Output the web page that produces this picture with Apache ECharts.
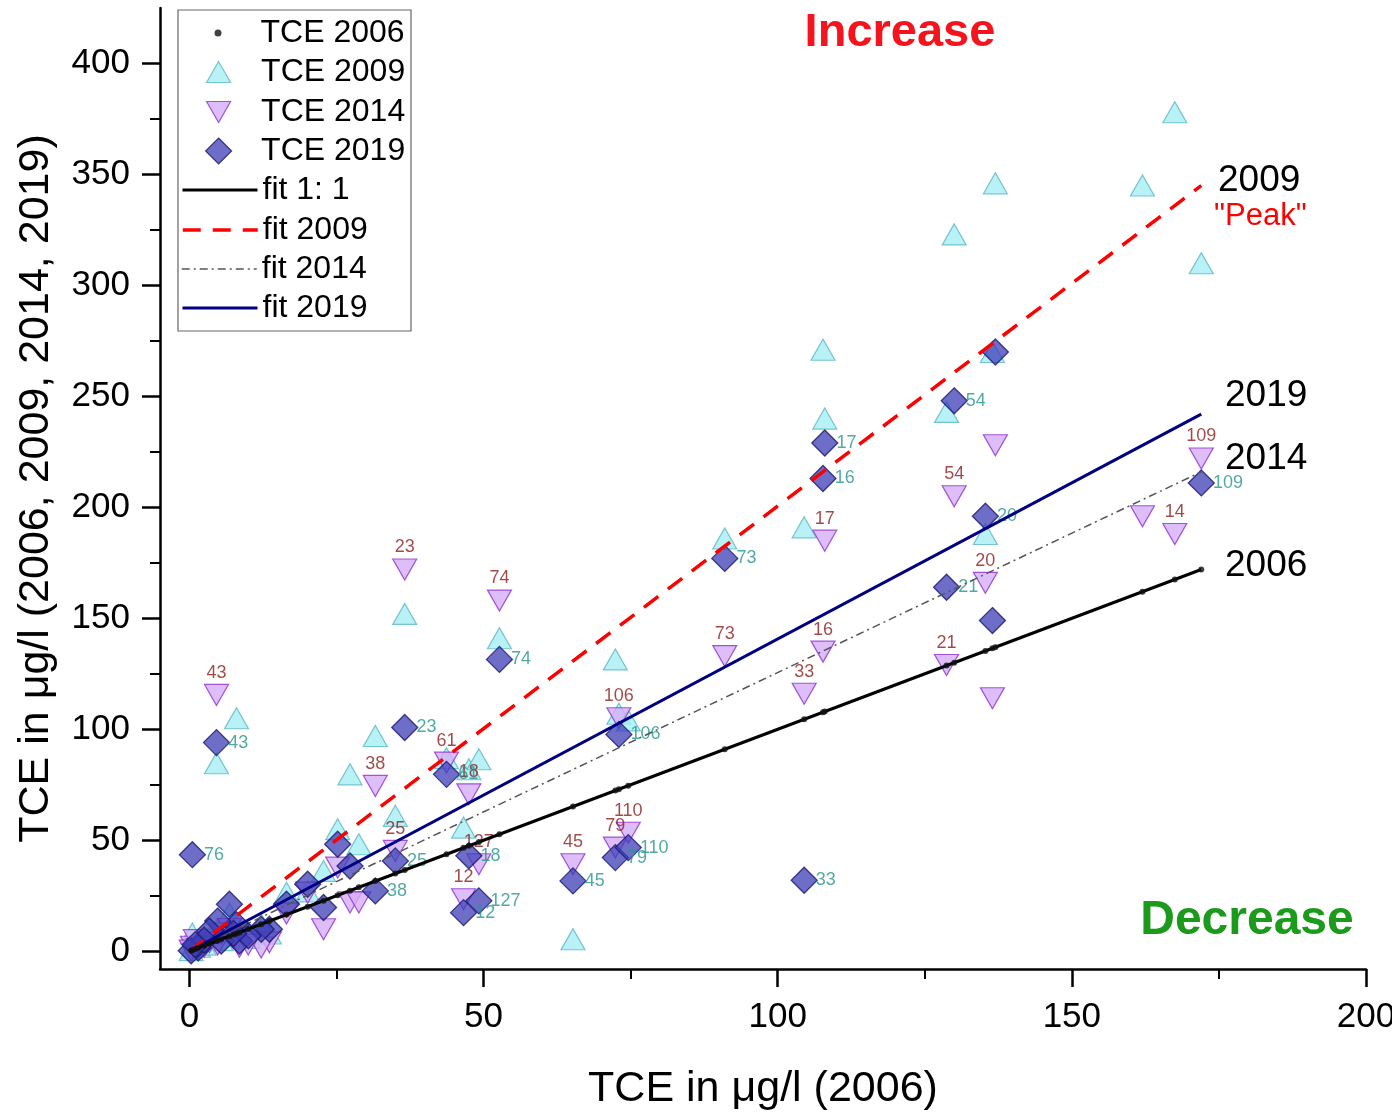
<!DOCTYPE html>
<html><head><meta charset="utf-8">
<script src="https://cdn.jsdelivr.net/npm/echarts@6.0.0/dist/echarts.min.js"></script>
<style>html,body{margin:0;padding:0;background:#fff}#chart{width:1392px;height:1115px}</style>
</head><body><div id="chart"></div>
<script>
// ---- data ----
const tce2006 = [172,167.5,162,137,136.5,135.3,130,128.7,108,107.7,104.5,91,73,72.4,74.6,65.2,52.7,43.7,47.5,46.6,49.2,36.6,31.6,35,27.3,28.8,25.2,22.8,20.1,16.5,13.6,0.5,4.6,8,6.8,4.8,8.5,12.2,3.4,5.4,1.5,0.3,2.5,10,7.5,1];
const tce2009 = [310,378,345,346,270,188,323,243,240,271,191,186,107,131.5,104,5.4,141,87,82,55.7,86.5,152,97,61,79.7,48.2,55,36.2,27,26.4,8,8,84.7,105,17,10,8,12,6,5,2,0.5,3,6,12,4];
const tce2014 = [222,188,196,228,114,166,205,129,185,135,116,133,105,46.7,53.4,39.2,158,85,70.7,23.4,39.2,172,74.5,45.2,22,22,37.7,9.9,26.4,17,4,2,115.5,5,10,3,2,1.7,4,8,1,0.3,2,3,6,5];
const tce2019 = [211,null,null,270,149,196,248,164,229,213,32,177,97.7,42.2,46.7,31.7,131.5,79.7,43,17.4,22.7,100.8,27.2,40.7,38.4,null,48.2,19.7,30.2,21.2,9.9,43.5,94,12,21.2,13.6,4.6,9.9,9.1,4.6,1.5,0.2,5,7,8,3];
const label2014 = ['109','14','','','','20','54','21','17','16','33','73','106','79','110','45','74','61','18','12','127','23','38','25','','','','','','','','','43','','','','','','','','','','','','',''];
const label2019 = ['109','','','','','20','54','21','17','16','33','73','106','79','110','45','74','61','18','12','127','23','38','25','','','','','','','','76','43','','','','','','','','','','','','',''];
const fit11 = [[0,0],[172,172]];
const fit2009 = [[0,0],[172,345]];
const fit2014 = [[0,0],[172,216]];
const fit2019 = [[0,0],[172,242]];
const xTicks = [0,50,100,150,200];
const xMinor = [25,75,125,175];
const yTicks = [0,50,100,150,200,250,300,350,400];
const yMinor = [25,75,125,175,225,275,325,375];

const FONT = '"Liberation Sans", Arial, sans-serif';
const pts = (ys, labels) => tce2006.map((x,i) => ys[i] == null ? null : [x, ys[i], labels ? labels[i] : '']).filter(Boolean);

const chart = echarts.init(document.getElementById('chart'), null, {renderer:'canvas'});

const axisLineStyle = {color:'#000', width:2.5};
const legendBase = {
  orient:'vertical', left:181, padding:0, itemGap:0, itemWidth:75,
  selectedMode:false, symbolKeepAspect:true,
  textStyle:{fontSize:32, lineHeight:32, color:'#000', fontFamily:FONT}
};
const rowY = [33,72,112,151,190,230,269,308];
const DOWN_TRI = 'path://M0,0 L24,0 L12,21 Z';
const UP_TRI = 'path://M12,0 L24,21 L0,21 Z';
const DIAM = 'path://M13,0 L26,13 L13,26 L0,13 Z';
const ICON_CX = 218;

const option = {
  backgroundColor:'#fff',
  animation:false,
  grid:{left:160, right:26, top:8, bottom:146, containLabel:false, outerBoundsMode:'none'},
  xAxis:[
    {type:'value', min:-5, max:200, position:'bottom',
     axisLine:{show:true, onZero:false, lineStyle:axisLineStyle},
     axisTick:{show:true, inside:false, length:18, lineStyle:{color:'#000', width:2.5}, customValues:xTicks},
     axisLabel:{show:true, customValues:xTicks, fontSize:35, color:'#000', fontFamily:FONT, margin:31},
     splitLine:{show:false},
     name:'TCE in \u03bcg/l (2006)', nameLocation:'middle', nameGap:99,
     nameTextStyle:{fontSize:43, color:'#000', fontFamily:FONT}},
    {type:'value', min:-5, max:200, position:'bottom', gridIndex:0,
     axisLine:{show:false, onZero:false},
     axisTick:{show:true, inside:false, length:10, lineStyle:{color:'#000', width:2}, customValues:xMinor},
     axisLabel:{show:false}, splitLine:{show:false}}
  ],
  yAxis:[
    {type:'value', min:-8, max:425, position:'left',
     axisLine:{show:true, onZero:false, lineStyle:axisLineStyle},
     axisTick:{show:true, inside:false, length:18, lineStyle:{color:'#000', width:2.5}, customValues:yTicks},
     axisLabel:{show:true, customValues:yTicks, fontSize:35, color:'#000', fontFamily:FONT, margin:30},
     splitLine:{show:false},
     name:'TCE in \u03bcg/l (2006, 2009, 2014, 2019)', nameLocation:'middle', nameGap:102,
     nameTextStyle:{fontSize:43, color:'#000', fontFamily:FONT}},
    {type:'value', min:-8, max:425, position:'left', gridIndex:0,
     axisLine:{show:false, onZero:false},
     axisTick:{show:true, inside:false, length:10, lineStyle:{color:'#000', width:2}, customValues:yMinor},
     axisLabel:{show:false}, splitLine:{show:false}}
  ],
  legend:[
    Object.assign({}, legendBase, {data:[{name:'TCE 2006', icon:'circle'}], left:ICON_CX-3.5, top:rowY[0]-16, itemHeight:7}),
    Object.assign({}, legendBase, {data:[{name:'TCE 2009', icon:UP_TRI}], left:ICON_CX-12, top:rowY[1]-16, itemHeight:21, itemStyle:{borderWidth:1.2}}),
    Object.assign({}, legendBase, {data:[{name:'TCE 2014', icon:DOWN_TRI}], left:ICON_CX-12, top:rowY[2]-16, itemHeight:21, itemStyle:{borderWidth:1.2}}),
    Object.assign({}, legendBase, {data:[{name:'TCE 2019', icon:DIAM}], left:ICON_CX-13, top:rowY[3]-16, itemHeight:26, itemStyle:{borderWidth:1.2}}),
    Object.assign({}, legendBase, {data:[{name:'fit 1: 1', itemStyle:{opacity:0}}], top:rowY[4]-16, itemHeight:4, lineStyle:{width:3}}),
    Object.assign({}, legendBase, {data:[{name:'fit 2009', itemStyle:{opacity:0}}], top:rowY[5]-16, itemHeight:4, lineStyle:{width:3.5}}),
    Object.assign({}, legendBase, {data:[{name:'fit 2014', itemStyle:{opacity:0}}], top:rowY[6]-16, itemHeight:4, lineStyle:{width:1.5}}),
    Object.assign({}, legendBase, {data:[{name:'fit 2019', itemStyle:{opacity:0}}], top:rowY[7]-16, itemHeight:4, lineStyle:{width:3}})
  ],
  graphic:[
    {type:'rect', z:-1, shape:{x:178, y:10, width:233, height:321}, style:{fill:'#fff', stroke:'#666', lineWidth:1.2}},
    {type:'text', x:900, y:33, style:{text:'Increase', fill:'#f5141e', font:'bold 47px '+FONT, align:'center', verticalAlign:'middle'}},
    {type:'text', x:1247, y:921, style:{text:'Decrease', fill:'#1c9a1c', font:'bold 48px '+FONT, align:'center', verticalAlign:'middle'}},
    {type:'text', x:1218, y:181, style:{text:'2009', fill:'#000', font:'37px '+FONT, align:'left', verticalAlign:'middle'}},
    {type:'text', x:1214, y:216, style:{text:'"Peak"', fill:'#f00', font:'31px '+FONT, align:'left', verticalAlign:'middle'}},
    {type:'text', x:1225, y:396, style:{text:'2019', fill:'#000', font:'37px '+FONT, align:'left', verticalAlign:'middle'}},
    {type:'text', x:1225, y:459, style:{text:'2014', fill:'#000', font:'37px '+FONT, align:'left', verticalAlign:'middle'}},
    {type:'text', x:1225, y:566, style:{text:'2006', fill:'#000', font:'37px '+FONT, align:'left', verticalAlign:'middle'}}
  ],
  series:[
    {name:'TCE 2009', type:'scatter', z:2, data:pts(tce2009), symbol:'triangle', symbolSize:[24,21],
     itemStyle:{color:'#a6eff5', borderColor:'#5db6c6', borderWidth:1.2}},
    {name:'TCE 2014', type:'scatter', z:3, data:pts(tce2014, label2014), symbol:'triangle', symbolRotate:180, symbolSize:[24,21],
     itemStyle:{color:'#d4aef7', borderColor:'#9030d0', borderWidth:1.2},
     label:{show:true, position:'top', distance:2, color:'#8b1c1c', fontSize:18, fontFamily:FONT, formatter:p => p.data[2] || ''}},
    {name:'TCE 2019', type:'scatter', z:4, data:pts(tce2019, label2019), symbol:'diamond', symbolSize:[26,26],
     itemStyle:{color:'rgba(60,60,182,0.93)', borderColor:'#16166e', borderWidth:1.3},
     label:{show:true, position:'right', distance:-2, color:'#26968c', fontSize:18, fontFamily:FONT, formatter:p => p.data[2] || ''}},
    {name:'fit 2014', type:'line', z:5, data:fit2014, symbol:'none', showSymbol:false,
     itemStyle:{color:'#555'}, lineStyle:{color:'#555', width:1.5, type:[8,4,2,4]}},
    {name:'fit 2009', type:'line', z:5, data:fit2009, symbol:'none', showSymbol:false,
     itemStyle:{color:'#f00'}, lineStyle:{color:'#f00', width:3.5, type:[18,12]}},
    {name:'fit 2019', type:'line', z:5, data:fit2019, symbol:'none', showSymbol:false,
     itemStyle:{color:'#000080'}, lineStyle:{color:'#000080', width:3}},
    {name:'fit 1: 1', type:'line', z:6, data:fit11, symbol:'none', showSymbol:false,
     itemStyle:{color:'#000'}, lineStyle:{color:'#000', width:3}},
    {name:'TCE 2006', type:'scatter', z:7, data:pts(tce2006.slice()), symbol:'circle', symbolSize:6,
     itemStyle:{color:'#111'}}
  ]
};
chart.setOption(option);
</script></body></html>
